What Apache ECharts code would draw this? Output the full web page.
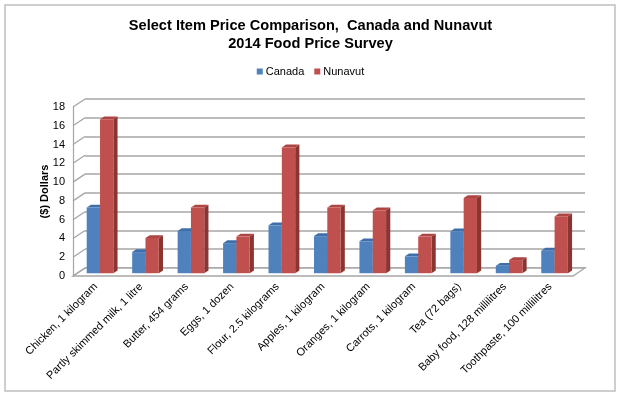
<!DOCTYPE html>
<html>
<head>
<meta charset="utf-8">
<script src="https://cdn.jsdelivr.net/npm/echarts@6/dist/echarts.min.js"></script>
<style>
html,body{margin:0;padding:0;background:#fff;}
#chart{width:621px;height:396px;}
</style>
</head>
<body>
<div id="chart"></div>
<script>
var categories = ["Chicken, 1 kilogram", "Partly skimmed milk, 1 litre", "Butter, 454 grams", "Eggs, 1 dozen", "Flour, 2.5 kilograms", "Apples, 1 kilogram", "Oranges, 1 kilogram", "Carrots, 1 kilogram", "Tea (72 bags)", "Baby food, 128 millilitres", "Toothpaste, 100 millilitres"];
var canada = [7.0, 2.25, 4.5, 3.2, 5.1, 3.95, 3.4, 1.8, 4.45, 0.8, 2.4];
var nunavut = [16.4, 3.75, 7.0, 3.9, 13.4, 7.0, 6.7, 3.9, 8.0, 1.4, 6.05];
var yTicks = [0, 2, 4, 6, 8, 10, 12, 14, 16, 18];

var FONT = '"Liberation Sans", Arial, sans-serif';
var DEPTH_X = 12, DEPTH_Y = -8;
var GRID_COLOR = '#a6a6a6';

function barRenderer(side, front, topC, sideC) {
  return function (params, api) {
    var i = api.value(0), v = api.value(1);
    var top = api.coord([i, v]);
    var base = api.coord([i, 0]);
    var band = api.size([1, 0])[0];
    var w = band * 0.293;
    var sx = 4.3, sy = -2.8;
    var dx = 4.2, dy = -2.8;
    var cx = top[0] + sx;
    var x0 = side < 0 ? cx - w : cx;
    var x1 = x0 + w;
    var yt = top[1] + sy, yb = base[1] + sy;
    return {
      type: 'group',
      children: [
        { type: 'polygon', shape: { points: [[x1, yt], [x1 + dx, yt + dy], [x1 + dx, yb + dy], [x1, yb]] }, style: { fill: sideC } },
        { type: 'polygon', shape: { points: [[x0, yt], [x1, yt], [x1 + dx, yt + dy], [x0 + dx, yt + dy]] }, style: { fill: topC } },
        { type: 'rect', shape: { x: x0, y: yt, width: w, height: yb - yt }, style: { fill: front } }
      ]
    };
  };
}

var chart = echarts.init(document.getElementById('chart'), null, { renderer: 'canvas' });
var option = {
  backgroundColor: '#fff',
  animation: false,
  textStyle: { fontFamily: FONT },
  title: {
    text: 'Select Item Price Comparison,  Canada and Nunavut\n2014 Food Price Survey',
    left: 'center',
    top: 12,
    textStyle: { fontFamily: FONT, fontSize: 14.6, fontWeight: 'bold', color: '#000', lineHeight: 18 }
  },
  legend: {
    data: ['Canada', 'Nunavut'],
    top: 61,
    left: 'center',
    itemWidth: 6,
    itemHeight: 6,
    itemGap: 10,
    icon: 'rect',
    textStyle: { fontFamily: FONT, fontSize: 11, color: '#000', padding: [0, 0, 0, -2] }
  },
  graphic: [
    { type: 'rect', shape: { x: 5, y: 5, width: 610, height: 386 }, style: { fill: 'none', stroke: '#bfbfbf', lineWidth: 1.5 }, z: 0 }
  ],
  grid: [
    { left: 73, top: 107, width: 500, height: 169 },
    { left: 73 + DEPTH_X, top: 107 + DEPTH_Y, width: 500, height: 169 }
  ],
  xAxis: [
    {
      type: 'category', gridIndex: 0, data: categories,
      axisLine: { show: false }, axisTick: { show: false },
      axisLabel: { interval: 0, rotate: 45, margin: 9, fontFamily: FONT, fontSize: 11, color: '#000' }
    },
    { type: 'category', gridIndex: 1, data: categories, show: false }
  ],
  yAxis: [
    {
      type: 'value', gridIndex: 0, min: 0, max: 18, interval: 2,
      name: '($) Dollars', nameLocation: 'middle', nameGap: 23, nameRotate: 90,
      nameMoveOverlap: false,
      nameTextStyle: { fontFamily: FONT, fontSize: 11, fontWeight: 'bold', color: '#000' },
      axisLine: { show: true, lineStyle: { color: GRID_COLOR, width: 1.2 } },
      axisTick: { show: false },
      splitLine: { show: false },
      axisLabel: { margin: 8, fontFamily: FONT, fontSize: 11, color: '#000' }
    },
    {
      type: 'value', gridIndex: 1, min: 0, max: 18, interval: 2,
      axisLine: { show: false }, axisTick: { show: false }, axisLabel: { show: false },
      splitLine: { show: true, lineStyle: { color: GRID_COLOR, width: 1.5 } }
    }
  ],
  series: [
    {
      type: 'custom', name: 'floor', xAxisIndex: 0, yAxisIndex: 0, z: 1, silent: true,
      data: [[0, 0]],
      renderItem: function (params, api) {
        var cs = params.coordSys;
        var y0 = api.coord([0, 0])[1];
        var x0 = cs.x, x1 = cs.x + cs.width;
        return {
          type: 'polygon',
          shape: { points: [[x0, y0], [x1, y0], [x1 + DEPTH_X, y0 + DEPTH_Y], [x0 + DEPTH_X, y0 + DEPTH_Y]] },
          style: { fill: '#fff', stroke: GRID_COLOR, lineWidth: 1.3 }
        };
      }
    },
    {
      type: 'custom', name: 'wall', xAxisIndex: 0, yAxisIndex: 0, z: 1, silent: true,
      data: yTicks.map(function (t) { return [0, t]; }),
      renderItem: function (params, api) {
        var cs = params.coordSys;
        var y = api.coord([0, api.value(1)])[1];
        return {
          type: 'line',
          shape: { x1: cs.x, y1: y, x2: cs.x + DEPTH_X, y2: y + DEPTH_Y },
          style: { stroke: GRID_COLOR, lineWidth: 1.3 }
        };
      }
    },
    {
      type: 'custom', name: 'Canada', xAxisIndex: 0, yAxisIndex: 0, z: 3,
      itemStyle: { color: '#4f81bd' },
      encode: { x: 0, y: 1 },
      data: canada.map(function (v, i) { return [i, v]; }),
      renderItem: barRenderer(-1, '#4f81bd', '#3f6ea8', '#34598a')
    },
    {
      type: 'custom', name: 'Nunavut', xAxisIndex: 0, yAxisIndex: 0, z: 3,
      itemStyle: { color: '#c0504d' },
      encode: { x: 0, y: 1 },
      data: nunavut.map(function (v, i) { return [i, v]; }),
      renderItem: barRenderer(1, '#c0504d', '#ad4542', '#8b3533')
    }
  ]
};
chart.setOption(option);
</script>
</body>
</html>
